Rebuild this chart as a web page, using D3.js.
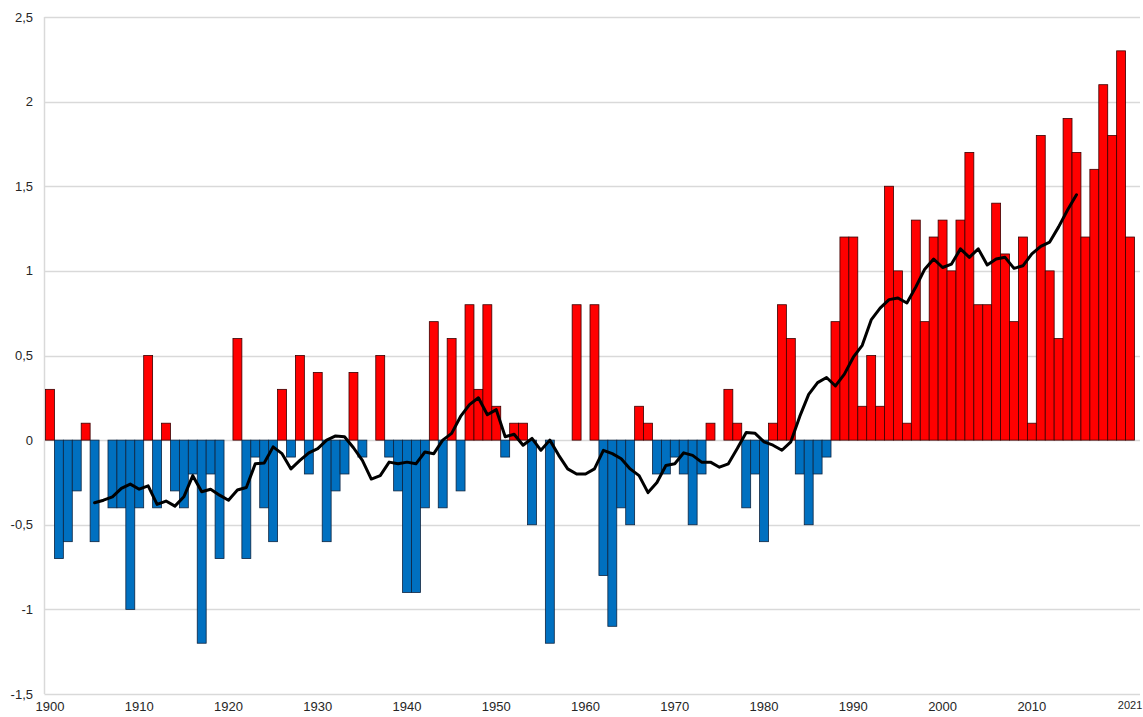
<!DOCTYPE html>
<html>
<head>
<meta charset="utf-8">
<script src="https://cdn.jsdelivr.net/npm/d3@7"></script>
<style>
	body { margin: 0; background: white; }
	svg text { font-family: "Liberation Sans", Arial, sans-serif; fill: #262626; }
</style>
</head>
<body>
<div id="chart"></div>
<script>
// yearly anomalies 1900-2021
let years = d3.range(1900, 2022)
let anomalies = [
	0.3, -0.7, -0.6, -0.3, 0.1, -0.6, 0, -0.4, -0.4, -1.0,
	-0.4, 0.5, -0.4, 0.1, -0.3, -0.4, -0.2, -1.2, -0.2, -0.7,
	0, 0.6, -0.7, -0.1, -0.4, -0.6, 0.3, -0.1, 0.5, -0.2,
	0.4, -0.6, -0.3, -0.2, 0.4, -0.1, 0, 0.5, -0.1, -0.3,
	-0.9, -0.9, -0.4, 0.7, -0.4, 0.6, -0.3, 0.8, 0.3, 0.8,
	0.2, -0.1, 0.1, 0.1, -0.5, 0, -1.2, 0, 0, 0.8,
	0, 0.8, -0.8, -1.1, -0.4, -0.5, 0.2, 0.1, -0.2, -0.2,
	-0.1, -0.2, -0.5, -0.2, 0.1, 0, 0.3, 0.1, -0.4, -0.2,
	-0.6, 0.1, 0.8, 0.6, -0.2, -0.5, -0.2, -0.1, 0.7, 1.2,
	1.2, 0.2, 0.5, 0.2, 1.5, 1.0, 0.1, 1.3, 0.7, 1.2,
	1.3, 1.0, 1.3, 1.7, 0.8, 0.8, 1.4, 1.1, 0.7, 1.2,
	0.1, 1.8, 1.0, 0.6, 1.9, 1.7, 1.2, 1.6, 2.1, 1.8,
	2.3, 1.2
]

// moving average 1905-2015
let avgYears = d3.range(1905, 2016)
let avgValues = [
	-0.37, -0.355, -0.335, -0.285, -0.26,
	-0.29, -0.27, -0.38, -0.36, -0.39, -0.335, -0.21, -0.305, -0.29, -0.325,
	-0.355, -0.295, -0.28, -0.14, -0.135, -0.04, -0.08, -0.17, -0.12, -0.075,
	-0.05, 0.0, 0.025, 0.02, -0.045, -0.12, -0.23, -0.21, -0.13, -0.14,
	-0.13, -0.14, -0.07, -0.08, 0.0, 0.04, 0.14, 0.21, 0.25, 0.15,
	0.18, 0.02, 0.035, -0.03, 0.01, -0.06, 0.0, -0.09, -0.17, -0.2,
	-0.2, -0.17, -0.06, -0.08, -0.11, -0.17, -0.21, -0.31, -0.25, -0.15,
	-0.14, -0.075, -0.09, -0.13, -0.13, -0.16, -0.14, -0.05, 0.045, 0.04,
	-0.01, -0.03, -0.06, -0.01, 0.14, 0.27, 0.34, 0.37, 0.32, 0.39,
	0.49, 0.56, 0.71, 0.78, 0.83, 0.84, 0.81, 0.905, 1.01, 1.07,
	1.02, 1.04, 1.13, 1.08, 1.13, 1.035, 1.07, 1.08, 1.015, 1.03,
	1.1, 1.145, 1.17, 1.26, 1.36, 1.45
]

let yTicks = [-1.5, -1, -0.5, 0, 0.5, 1, 1.5, 2, 2.5]
let xTickYears = [1900, 1910, 1920, 1930, 1940, 1950, 1960, 1970, 1980, 1990, 2000, 2010, 2021]

let width = 1143
	height = 717
	left = 45.5
	right = 1134.5

let svg = d3.select('#chart')
	.append('svg')
	.attr('width', width)
	.attr('height', height)

let x = d3.scaleBand()
	.domain(years)
	.range([left, right])
	.padding(0)

let y = d3.scaleLinear()
	.domain([-1.5, 2.5])
	.range([694, 17])

// gridlines
svg.append('g')
	.selectAll('line')
	.data(yTicks)
	.enter()
	.append('line')
	.attr('x1', left - 1)
	.attr('x2', 1140)
	.attr('y1', d => Math.round(y(d)) + 0.5)
	.attr('y2', d => Math.round(y(d)) + 0.5)
	.attr('stroke', '#d9d9d9')
	.attr('stroke-width', 1.5)

// vertical axis line
svg.append('line')
	.attr('x1', left - 1)
	.attr('x2', left - 1)
	.attr('y1', y(2.5))
	.attr('y2', y(-1.5))
	.attr('stroke', '#d9d9d9')
	.attr('stroke-width', 1.5)

// y tick labels with comma decimals
let fmt = d => String(d).replace('.', ',')
svg.append('g')
	.selectAll('text')
	.data(yTicks)
	.enter()
	.append('text')
	.attr('x', 33)
	.attr('y', d => y(d))
	.attr('dy', '0.35em')
	.attr('text-anchor', 'end')
	.style('font-size', '13px')
	.text(fmt)

// bars
let data = years.map((yr, i) => ({ year: yr, value: anomalies[i] }))
svg.append('g')
	.selectAll('rect')
	.data(data)
	.enter()
	.append('rect')
	.attr('x', d => x(d.year))
	.attr('width', x.bandwidth())
	.attr('y', d => y(Math.max(0, d.value)))
	.attr('height', d => Math.abs(y(d.value) - y(0)))
	.attr('fill', d => d.value >= 0 ? '#ff0000' : '#0070c0')
	.attr('stroke', d => d.value >= 0 ? '#3a0000' : '#0d2440')
	.attr('stroke-width', 0.8)

// moving average line
let avgData = avgYears.map((yr, i) => ({ year: yr, value: avgValues[i] }))
let line = d3.line()
	.x(d => x(d.year) + x.bandwidth() / 2)
	.y(d => y(d.value))

svg.append('path')
	.datum(avgData)
	.attr('d', line)
	.attr('fill', 'none')
	.attr('stroke', '#000')
	.attr('stroke-width', 3)
	.attr('stroke-linejoin', 'round')
	.attr('stroke-linecap', 'round')

// x labels
svg.append('g')
	.selectAll('text')
	.data(xTickYears)
	.enter()
	.append('text')
	.attr('x', d => x(d) + x.bandwidth() / 2)
	.attr('y', d => d == 2021 ? 709 : 711)
	.attr('text-anchor', 'middle')
	.style('font-size', d => d == 2021 ? '11px' : '13px')
	.text(d => d)
</script>
</body>
</html>
